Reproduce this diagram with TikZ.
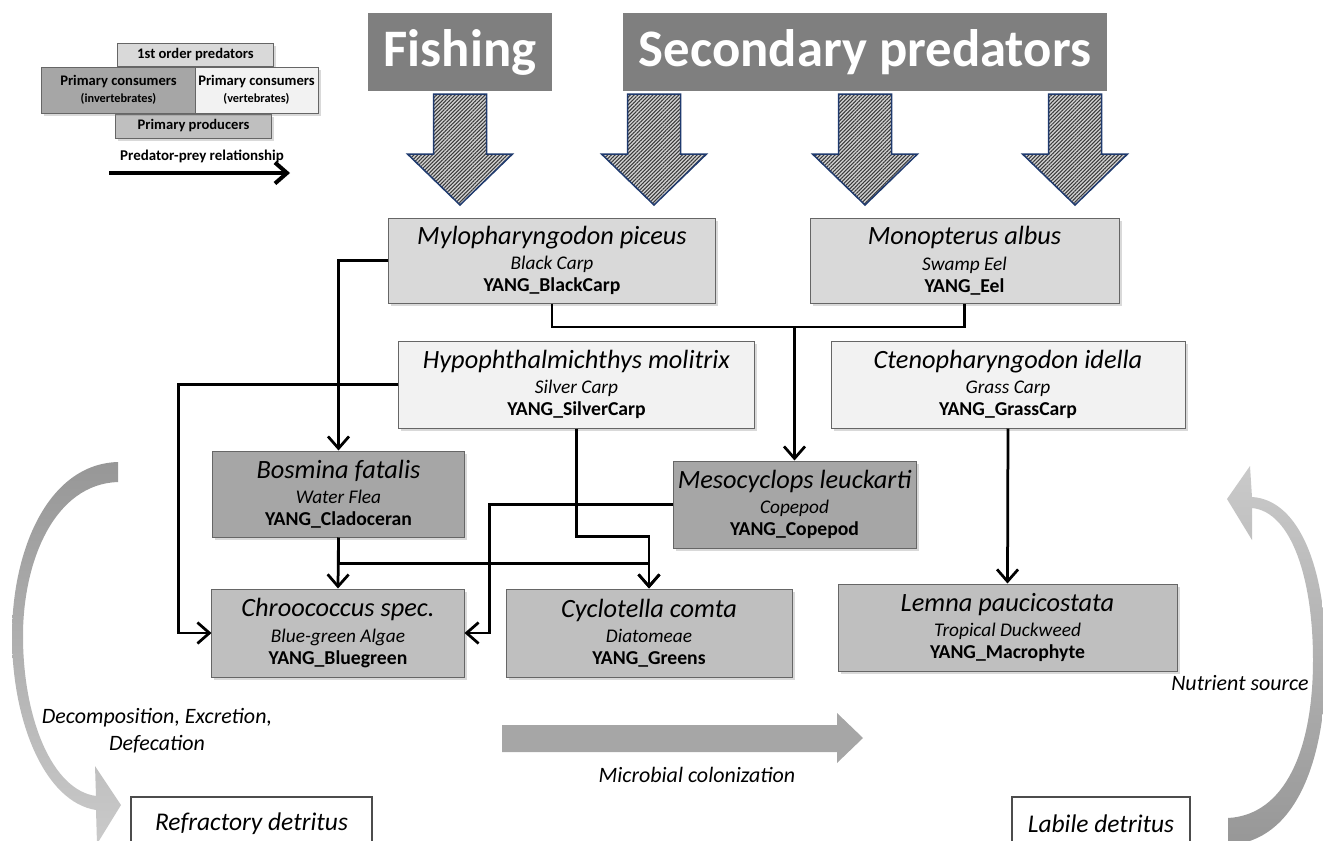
\documentclass[tikz,border=0pt]{standalone}
\usepackage{fontspec}
\setmainfont{Carlito}
\usetikzlibrary{arrows.meta,shadows,patterns.meta}

\definecolor{cfish}{HTML}{7F7F7F}
\definecolor{cpred}{HTML}{D9D9D9}
\definecolor{cvert}{HTML}{F2F2F2}
\definecolor{cinv}{HTML}{A6A6A6}
\definecolor{cprod}{HTML}{BFBFBF}
\definecolor{navy}{HTML}{1F3A6E}
\definecolor{flowdark}{HTML}{979797}
\definecolor{flowlight}{HTML}{CACACA}

\newcommand{\sname}[1]{{\fontsize{15}{18}\selectfont\itshape #1}}
\newcommand{\cname}[1]{{\fontsize{11}{12.5}\selectfont\itshape #1}}
\newcommand{\ycode}[1]{{\fontsize{11.2}{12.5}\selectfont\bfseries #1}}

\tikzset{
  box/.style={draw=black!60, line width=0.2mm, align=center, inner sep=0pt,
    drop shadow={shadow xshift=0.5mm, shadow yshift=-0.5mm, opacity=0.3}},
  spbox/.style={box, minimum height=17.4mm, font=\fontsize{10}{12.5}\selectfont},
  legbox/.style={box, font=\bfseries\fontsize{8.3}{9.6}\selectfont},
  topbox/.style={fill=cfish, text=white, minimum height=15.6mm,
    font=\bfseries\fontsize{30}{36}\selectfont},
  detbox/.style={draw=black!70, fill=white, line width=0.25mm, minimum height=10.6mm,
    font=\itshape\fontsize{14.5}{17}\selectfont},
  lbl/.style={align=center, font=\itshape\fontsize{12.5}{15.4}\selectfont},
  wire/.style={line width=0.55mm},
  feed/.style={wire, -{Straight Barb[length=2.4mm,width=4.2mm]}},
  hatch/.style={draw=navy, line width=0.3mm, preaction={fill=gray!35},
    pattern={Lines[angle=45,distance=1.5pt,line width=0.6pt]}, pattern color=gray!45!black},
}

\begin{document}
\begin{tikzpicture}[x=0.2mm,y=-0.2mm]
\useasboundingbox (0,0) rectangle (1323,841);

% legend
\node[legbox, fill=cpred, minimum width=31mm, minimum height=4.6mm] (lgpred) at (195.5,54.5) {1st order predators};
\node[legbox, fill=cprod, minimum width=31mm, minimum height=4.8mm] (lgprod) at (193.5,126) {Primary producers};
\node[legbox, fill=cinv, minimum width=30.6mm, minimum height=9.2mm] (lginv) at (118.5,90)
  {Primary consumers\\{\fontsize{7}{8}\selectfont(invertebrates)}};
\node[legbox, fill=cvert, minimum width=24.6mm, minimum height=9.2mm] (lgvert) at (256.5,90)
  {Primary consumers\\{\fontsize{7}{8}\selectfont(vertebrates)}};
\node[font=\bfseries\fontsize{8.5}{10}\selectfont] (lgtext) at (202,156) {Predator-prey relationship};
\coordinate (lgA) at (109,173);
\coordinate (lgB) at (290,173);
\draw[feed, line width=0.8mm] (lgA) -- (lgB);

% pressure from above
\node[topbox, minimum width=36.8mm] (fish) at (460,52) {Fishing};
\node[topbox, minimum width=96.8mm] (secpred) at (865,52) {Secondary predators};
\foreach \x in {460,654,865,1075}
  \draw[hatch] (\x-26.5,94) -- (\x+26.5,94) -- (\x+26.5,154) -- (\x+52.5,154)
    -- (\x,205) -- (\x-52.5,154) -- (\x-26.5,154) -- cycle;

% species
\node[spbox, fill=cpred, minimum width=65.2mm, minimum height=17mm] (mylo) at (552,260.5)
  {\sname{Mylopharyngodon piceus}\\[2pt]\cname{Black Carp}\\\ycode{YANG\_BlackCarp}};
\node[spbox, fill=cpred, minimum width=61.8mm, minimum height=17mm] (mono) at (964.5,260.5)
  {\sname{Monopterus albus}\\[2pt]\cname{Swamp Eel}\\\ycode{YANG\_Eel}};
\node[spbox, fill=cvert, minimum width=71mm] (hypo) at (576.5,384.5)
  {\sname{Hypophthalmichthys molitrix}\\[2pt]\cname{Silver Carp}\\\ycode{YANG\_SilverCarp}};
\node[spbox, fill=cvert, minimum width=70.8mm] (cteno) at (1008,384.5)
  {\sname{Ctenopharyngodon idella}\\[2pt]\cname{Grass Carp}\\\ycode{YANG\_GrassCarp}};
\node[spbox, fill=cinv, minimum width=50.2mm, minimum height=17.2mm] (bosm) at (338.5,494)
  {\sname{Bosmina fatalis}\\[2pt]\cname{Water Flea}\\\ycode{YANG\_Cladoceran}};
\node[spbox, fill=cinv, minimum width=48.6mm] (meso) at (794.5,504.5)
  {\sname{Mesocyclops leuckarti}\\[2pt]\cname{Copepod}\\\ycode{YANG\_Copepod}};
\node[spbox, fill=cprod, minimum width=50.4mm, minimum height=17.6mm] (chroo) at (338,633)
  {\sname{Chroococcus spec.}\\[2pt]\cname{Blue-green Algae}\\\ycode{YANG\_Bluegreen}};
\node[spbox, fill=cprod, minimum width=57.2mm, minimum height=17.6mm] (cyclo) at (649,633)
  {\sname{Cyclotella comta}\\[2pt]\cname{Diatomeae}\\\ycode{YANG\_Greens}};
\node[spbox, fill=cprod, minimum width=67.8mm] (lemna) at (1007.5,627.5)
  {\sname{Lemna paucicostata}\\[2pt]\cname{Tropical Duckweed}\\\ycode{YANG\_Macrophyte}};

% feeding links
\coordinate (join) at (794.5,327);
\draw[feed] (mylo.west) -| (bosm.north);
\draw[wire] (mylo.south) |- (join) -| (mono.south);
\draw[feed] (join) -- (meso.north);
\draw[feed] (hypo.west) -- ++(-220,0) |- (chroo.west);
\draw[feed] (hypo.south) -- ++(0,108) -| (cyclo.north);
\draw[feed] (bosm.south) -- (chroo.north);
\draw[feed] (bosm.south) -- ++(0,26) -| (cyclo.north);
\draw[feed] (meso.west) -- ++(-183,0) |- (chroo.east);
\draw[feed] (cteno.south) -- (lemna.north);

% detritus loop
\node[detbox, minimum width=48.2mm] (refr) at (251.5,823.5) {Refractory detritus};
\node[detbox, minimum width=35.6mm] (labile) at (1101,823.5) {Labile detritus};
\shade[top color=flowdark, bottom color=flowlight]
  (118,462) .. controls (48,464) and (12,550) .. (12,636)
  .. controls (12,722) and (45,802) .. (96,810)
  -- (97,844) -- (121,805) -- (95,766) -- (96,796)
  .. controls (52,790) and (23,718) .. (23,636)
  .. controls (23,560) and (55,484) .. (118,482) -- cycle;
\shade[top color=flowlight, bottom color=flowdark]
  (1228,845) .. controls (1296,842) and (1326,760) .. (1326,660)
  .. controls (1326,570) and (1300,500) .. (1252,497)
  -- (1250,466) -- (1227,499) -- (1252,540) -- (1252,508)
  .. controls (1292,512) and (1313,580) .. (1313,660)
  .. controls (1313,750) and (1285,815) .. (1228,818) -- cycle;
\fill[cinv] (502,725) -- (837,725) -- (837,713) -- (863,738) -- (837,763) -- (837,752) -- (502,752) -- cycle;
\node[lbl] (decomp) at (157,731) {Decomposition, Excretion,\\Defecation};
\node[lbl] (microb) at (697,775) {Microbial colonization};
\node[lbl] (nutr) at (1240,683) {Nutrient source};
\end{tikzpicture}
\end{document}
